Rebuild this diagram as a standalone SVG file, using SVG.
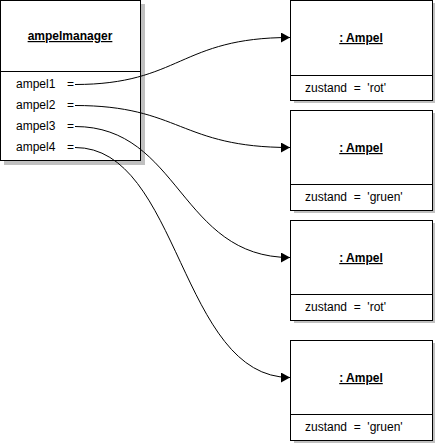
<svg xmlns="http://www.w3.org/2000/svg" width="435" height="445" viewBox="0 0 435 445">
<style>
.box{fill:#fff;stroke:#000;stroke-width:1}
.shadow{fill:#c0c0c0}
.div{stroke:#000;stroke-width:1}
.t{font-family:"Liberation Sans",Arial,sans-serif;font-size:12px;fill:#000}
.title{font-weight:bold;text-decoration:underline;text-anchor:middle}
.conn{fill:none;stroke:#000;stroke-width:1}
</style>
<defs>
<marker id="arr" markerWidth="9" markerHeight="10" refX="9" refY="5" orient="auto" markerUnits="userSpaceOnUse">
<path d="M0,0 L9,5 L0,10 Z" fill="#000"/>
</marker>
</defs>
<rect width="435" height="445" fill="#fff"/>
<g id="ampelmanager">
<rect class="shadow" x="4" y="4" width="141" height="161"/>
<rect class="box" x="0.5" y="0.5" width="140" height="160"/>
<line class="div" x1="0.5" y1="71.5" x2="140.5" y2="71.5"/>
<text class="t title" x="70" y="40">ampelmanager</text>
<text class="t" x="16" y="88">ampel1</text><text class="t" x="67" y="88">=</text>
<text class="t" x="16" y="109">ampel2</text><text class="t" x="67" y="109">=</text>
<text class="t" x="16" y="130">ampel3</text><text class="t" x="67" y="130">=</text>
<text class="t" x="16" y="151">ampel4</text><text class="t" x="67" y="151">=</text>
</g>
<g id="ampel1">
<rect class="shadow" x="294" y="3" width="141" height="100"/>
<rect class="box" x="290.5" y="0.5" width="142" height="100"/>
<line class="div" x1="290.5" y1="75.5" x2="432.5" y2="75.5"/>
<text class="t title" x="361" y="42">: Ampel</text>
<text class="t" x="305" y="92" xml:space="preserve">zustand  =  'rot'</text>
</g>
<g id="ampel2">
<rect class="shadow" x="294" y="113" width="141" height="100"/>
<rect class="box" x="290.5" y="110.5" width="142" height="100"/>
<line class="div" x1="290.5" y1="184.5" x2="432.5" y2="184.5"/>
<text class="t title" x="361" y="152">: Ampel</text>
<text class="t" x="305" y="201" xml:space="preserve">zustand  =  'gruen'</text>
</g>
<g id="ampel3">
<rect class="shadow" x="294" y="223" width="141" height="100"/>
<rect class="box" x="290.5" y="220.5" width="142" height="100"/>
<line class="div" x1="290.5" y1="294.5" x2="432.5" y2="294.5"/>
<text class="t title" x="361" y="262">: Ampel</text>
<text class="t" x="305" y="311" xml:space="preserve">zustand  =  'rot'</text>
</g>
<g id="ampel4">
<rect class="shadow" x="294" y="343" width="141" height="100"/>
<rect class="box" x="290.5" y="340.5" width="142" height="100"/>
<line class="div" x1="290.5" y1="414.5" x2="432.5" y2="414.5"/>
<text class="t title" x="361" y="382">: Ampel</text>
<text class="t" x="305" y="431" xml:space="preserve">zustand  =  'gruen'</text>
</g>
<g id="connectors">
<path class="conn" marker-end="url(#arr)" d="M75,84.5 C180,84.5 180,37.5 290,37.5"/>
<path class="conn" marker-end="url(#arr)" d="M75,105.5 C180,105.5 180,147.5 290,147.5"/>
<path class="conn" marker-end="url(#arr)" d="M75,126.5 C180,126.5 180,257.5 290,257.5"/>
<path class="conn" marker-end="url(#arr)" d="M75,147.5 C180,147.5 180,377.5 290,377.5"/>
</g>
</svg>
